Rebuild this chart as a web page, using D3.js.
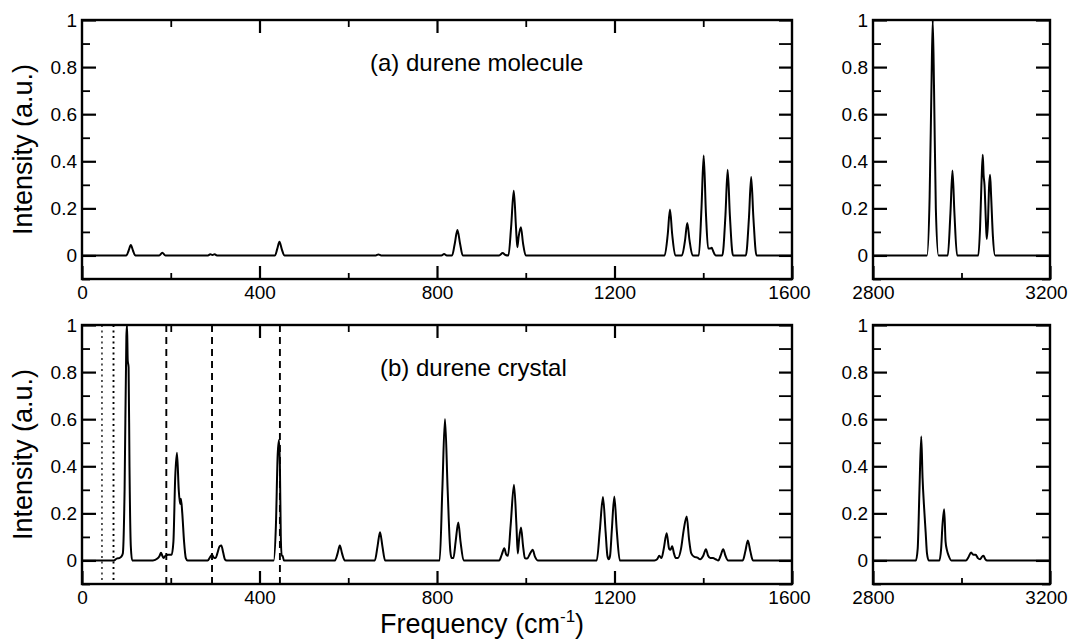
<!DOCTYPE html>
<html>
<head>
<meta charset="utf-8">
<script src="https://cdn.jsdelivr.net/npm/d3@7"></script>
<style>
  body { margin: 0; background: #fff; }
  svg { display: block; font-family: Arial, "Liberation Sans", Helvetica, sans-serif; }
  .tick text { fill: #000; }
</style>
</head>
<body>
<svg id="chart" width="1070" height="639"></svg>
<script>
// ---- data: [frequency (cm-1), intensity (a.u.)] ----
const moleculeLow = [
  [0,0],[100,0],[105,0.02],[110,0.044],[115,0.02],[120,0],
  [174,0],[181,0.011],[188,0],
  [284,0],[289,0.005],[294,0.002],[299,0.005],[304,0],
  [435,0],[440,0.028],[445,0.058],[450,0.028],[456,0],
  [662,0],[668,0.004],[674,0],
  [810,0],[816,0.006],[822,0],
  [834,0],[840,0.05],[846,0.108],[852,0.05],[858,0],
  [940,0],[948,0.01],[954,0.002],
  [961,0],[967,0.12],[973,0.275],[978,0.12],[981,0.035],[984,0.08],[989,0.12],[994,0.05],[1000,0],
  [1313,0],[1320,0.09],[1325,0.195],[1330,0.09],[1337,0],
  [1352,0],[1359,0.065],[1364,0.138],[1369,0.065],[1376,0],
  [1390,0],[1396,0.2],[1401,0.425],[1406,0.18],[1411,0.03],[1416,0.03],[1419,0.033],[1422,0.02],[1428,0],
  [1443,0],[1450,0.17],[1455,0.364],[1460,0.17],[1467,0],
  [1496,0],[1503,0.16],[1508,0.333],[1513,0.16],[1520,0],
  [1600,0]
];
const moleculeHigh = [
  [2800,0],[2922,0],[2928,0.25],[2932,0.7],[2935,1.0],[2938,0.7],[2942,0.2],[2948,0],
  [2969,0],[2975,0.18],[2979.6,0.361],[2984,0.18],[2990,0],
  [3038,0],[3042,0.12],[3045,0.3],[3048,0.428],[3050,0.34],[3052,0.3],[3055,0.15],[3057,0.07],
  [3060,0.15],[3062,0.28],[3064.6,0.343],[3067,0.25],[3071,0.08],[3076,0],
  [3200,0]
];
const crystalLow = [
  [0,0],[60,0],[72,0],[78,0.008],[84,0.01],[88,0.015],[92,0.03],[96,0.3],[100,0.95],[101.5,1.0],
  [103,0.85],[105,0.82],[107,0.4],[110,0.06],[113,0],
  [160,0],[170,0.008],[175,0.02],[178,0.033],[181,0.02],[184,0.01],[188,0.02],[195,0.024],[202,0.024],
  [206,0.08],[210,0.35],[214,0.457],[218,0.3],[221,0.24],[223,0.262],[226,0.2],[230,0.08],[234,0.01],[238,0],
  [283,0],[289,0.015],[293,0.024],[297,0.012],[301,0.01],[305,0.03],[310,0.06],[314,0.064],[318,0.035],[322,0.005],[326,0],
  [432,0],[437,0.15],[441,0.45],[444,0.512],[446,0.4],[448,0.1],[450,0.02],[452,0.02],[455,0],
  [570,0],[576,0.03],[581,0.064],[586,0.03],[592,0],
  [660,0],[666,0.06],[671.6,0.12],[677,0.06],[683,0],
  [806,0],[812,0.3],[818,0.601],[824,0.3],[830,0.04],[833,0.01],[837,0.01],[842,0.08],[848,0.161],[853,0.08],[860,0],
  [940,0],[946,0.025],[951.7,0.052],[956,0.025],[960,0.02],[966,0.15],[973.5,0.321],[979,0.15],[982,0.03],
  [985,0.09],[989.3,0.14],[994,0.06],[998,0.01],[1003,0.008],[1010,0.03],[1015.6,0.045],[1021,0.015],[1027,0],
  [1160,0],[1167,0.13],[1174,0.269],[1180,0.12],[1184,0.02],[1187,0.005],[1190,0.02],[1194,0.13],[1199.6,0.272],[1205,0.13],[1212,0],
  [1290,0],[1296,0.005],[1301,0.02],[1306,0.01],[1311,0.05],[1317.6,0.116],[1323,0.05],[1326,0.045],[1330,0.06],
  [1334,0.03],[1338,0.01],[1343,0.01],[1350,0.05],[1356,0.13],[1362.7,0.187],[1368,0.09],[1373,0.03],[1380,0.015],
  [1387,0.012],[1393,0.005],[1400,0.02],[1406,0.048],[1411,0.02],[1416,0.01],[1422,0.01],[1428,0.005],[1434,0],
  [1439,0.02],[1445,0.048],[1450,0.02],[1456,0],
  [1489,0],[1495,0.04],[1500.5,0.085],[1506,0.04],[1512,0],
  [1600,0]
];
const crystalHigh = [
  [2800,0],[2897,0],[2901,0.05],[2905,0.3],[2909,0.526],[2912,0.35],[2915,0.24],[2919,0.12],[2922,0.03],[2926,0],
  [2950,0],[2954,0.05],[2957,0.15],[2960.8,0.218],[2964,0.08],[2967,0.045],[2971,0.02],[2977,0],
  [3010,0],[3016,0.015],[3021.8,0.034],[3026,0.025],[3029,0.024],[3032,0.024],[3037,0.01],[3042,0.005],
  [3046,0.015],[3049.5,0.02],[3054,0.005],[3058,0],
  [3200,0]
];
const dottedLines = [45, 71];
const dashedLines = [190, 293, 446];

// ---- ticks ----
const yMajor = [0, 0.2, 0.4, 0.6, 0.8, 1];
const yMinor = [-0.1, 0.1, 0.3, 0.5, 0.7, 0.9];
const xLowLabels = [0, 400, 800, 1200, 1600];
const xLowMajorTop = [400, 800, 1200];
const xLowMinor = [200, 600, 1000, 1400];
const xHighLabels = [2800, 3200];
const xHighMinor = [3000];

const svg = d3.select("#chart");
svg.append("rect").attr("width", 1070).attr("height", 639).attr("fill", "#fff");

// layout
const xLow = d3.scaleLinear().domain([0, 1600]).range([82, 792]);
const xHigh = d3.scaleLinear().domain([2800, 3200]).range([873, 1050]);
const yTopPanel = d3.scaleLinear().domain([-0.1, 1]).range([279, 20]);
const yBotPanel = d3.scaleLinear().domain([-0.1, 1]).range([584, 325]);

const fmt = d3.format("~g");
let clipId = 0;

function drawPanel(x, y, data, opts) {
  const [x0, x1] = x.range();
  const [yb, yt] = y.range();
  const g = svg.append("g");

  const id = "clip" + (clipId++);
  svg.append("clipPath").attr("id", id)
    .append("rect").attr("x", x0).attr("y", yt).attr("width", x1 - x0).attr("height", yb - yt);

  // reference lines
  if (opts.refs) {
    opts.refs.forEach(r => {
      g.selectAll(null).data(r.values).enter().append("line")
        .attr("x1", d => x(d)).attr("x2", d => x(d))
        .attr("y1", yt).attr("y2", yb)
        .attr("stroke", "#000")
        .attr("stroke-width", (d, i) => r.widths[i])
        .attr("stroke-dasharray", r.dash);
    });
  }

  // spectrum
  const line = d3.line().x(d => x(d[0])).y(d => y(d[1])).curve(d3.curveMonotoneX);
  g.append("path").datum(data)
    .attr("d", line)
    .attr("fill", "none")
    .attr("stroke", "#000")
    .attr("stroke-width", 2)
    .attr("stroke-linejoin", "round")
    .attr("clip-path", `url(#${id})`);

  // left axis
  g.append("g").attr("transform", `translate(${x0},0)`)
    .call(d3.axisLeft(y).tickValues(yMajor).tickSize(-14).tickPadding(5).tickFormat(fmt))
    .call(a => a.select(".domain").remove())
    .call(a => a.selectAll("line").attr("stroke-width", 2.2));
  g.append("g").attr("transform", `translate(${x0},0)`)
    .call(d3.axisLeft(y).tickValues(yMinor).tickSize(-8).tickFormat(""))
    .call(a => a.select(".domain").remove())
    .call(a => a.selectAll("line").attr("stroke-width", 1.8));

  // right axis
  g.append("g").attr("transform", `translate(${x1},0)`)
    .call(d3.axisRight(y).tickValues(yMajor).tickSize(-opts.rightMajor).tickFormat(""))
    .call(a => a.select(".domain").remove())
    .call(a => a.selectAll("line").attr("stroke-width", 2.2));
  g.append("g").attr("transform", `translate(${x1},0)`)
    .call(d3.axisRight(y).tickValues(yMinor).tickSize(-opts.rightMinor).tickFormat(""))
    .call(a => a.select(".domain").remove())
    .call(a => a.selectAll("line").attr("stroke-width", 1.8));

  // bottom axis
  g.append("g").attr("transform", `translate(0,${yb})`)
    .call(d3.axisBottom(x).tickValues(opts.xLabels).tickSize(-13).tickPadding(7).tickFormat(fmt))
    .call(a => a.select(".domain").remove())
    .call(a => a.selectAll("line").attr("stroke-width", 2.2))
    .call(a => a.selectAll("text").attr("dx", (d, i, n) => i === n.length - 1 ? opts.lastDx : 0));
  g.append("g").attr("transform", `translate(0,${yb})`)
    .call(d3.axisBottom(x).tickValues(opts.xMinor).tickSize(-6).tickFormat(""))
    .call(a => a.select(".domain").remove())
    .call(a => a.selectAll("line").attr("stroke-width", 1.8));

  // top axis
  if (opts.topMajor.length) {
    g.append("g").attr("transform", `translate(0,${yt})`)
      .call(d3.axisTop(x).tickValues(opts.topMajor).tickSize(-13).tickFormat(""))
      .call(a => a.select(".domain").remove())
      .call(a => a.selectAll("line").attr("stroke-width", 2.2));
  }
  if (opts.topMinor.length) {
    g.append("g").attr("transform", `translate(0,${yt})`)
      .call(d3.axisTop(x).tickValues(opts.topMinor).tickSize(-7).tickFormat(""))
      .call(a => a.select(".domain").remove())
      .call(a => a.selectAll("line").attr("stroke-width", 1.8));
  }

  // frame
  g.append("rect")
    .attr("x", x0).attr("y", yt).attr("width", x1 - x0).attr("height", yb - yt)
    .attr("fill", "none").attr("stroke", "#000").attr("stroke-width", 2.4);

  g.selectAll(".tick text").style("font-size", "19px");

  if (opts.label) {
    g.append("text").attr("x", opts.label.x).attr("y", yt + 51)
      .attr("font-size", 24).text(opts.label.text);
  }
  return g;
}

const lowOpts = {
  rightMajor: 13, rightMinor: 13,
  xLabels: xLowLabels, xMinor: xLowMinor,
  topMajor: xLowMajorTop, topMinor: xLowMinor,
  lastDx: -3
};
const highOpts = {
  rightMajor: 14, rightMinor: 8,
  xLabels: xHighLabels, xMinor: xHighMinor,
  topMajor: [], topMinor: [],
  lastDx: -4
};

drawPanel(xLow, yTopPanel, moleculeLow, Object.assign({}, lowOpts, {
  label: { x: 370, text: "(a) durene molecule" }
}));
drawPanel(xHigh, yTopPanel, moleculeHigh, highOpts);

drawPanel(xLow, yBotPanel, crystalLow, Object.assign({}, lowOpts, {
  label: { x: 380, text: "(b) durene crystal" },
  refs: [
    { values: dottedLines, dash: "2,3.5", widths: [1.3, 1.9] },
    { values: dashedLines, dash: "7,5", widths: [1.9, 1.9, 1.9] }
  ]
}));
drawPanel(xHigh, yBotPanel, crystalHigh, highOpts);

// axis titles
[yTopPanel, yBotPanel].forEach(y => {
  const mid = (y.range()[0] + y.range()[1]) / 2;
  svg.append("text")
    .attr("transform", `translate(32,${mid}) rotate(-90)`)
    .attr("text-anchor", "middle")
    .attr("font-size", 27)
    .text("Intensity (a.u.)");
});

const xt = svg.append("text")
  .attr("x", 482).attr("y", 633)
  .attr("text-anchor", "middle")
  .attr("font-size", 27);
xt.append("tspan").text("Frequency (cm");
xt.append("tspan").attr("font-size", 17).attr("dy", -11).text("-1");
xt.append("tspan").attr("dy", 11).text(")");
</script>
</body>
</html>
